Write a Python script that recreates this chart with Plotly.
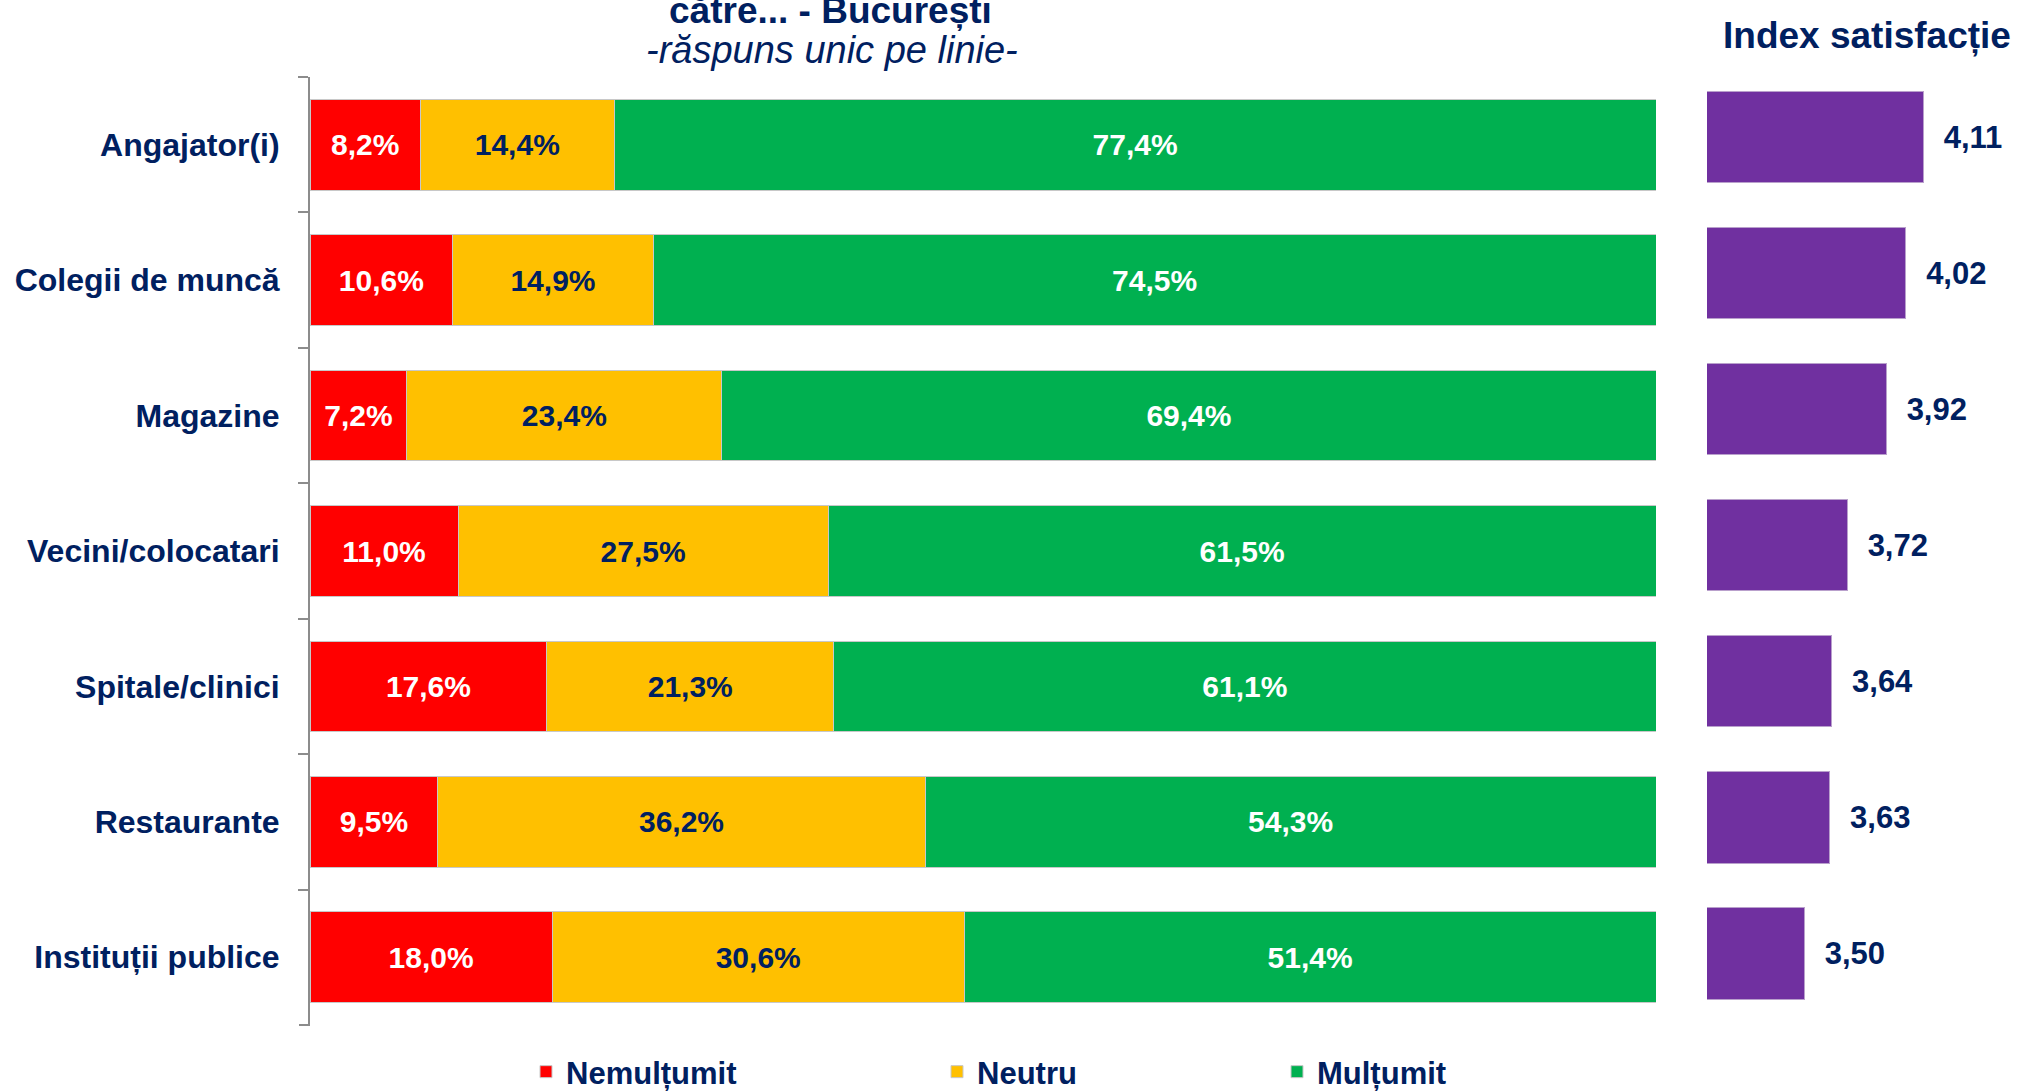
import plotly.graph_objects as go

W, H = 2019, 1091

categories = ["Angajator(i)", "Colegii de muncă", "Magazine", "Vecini/colocatari",
              "Spitale/clinici", "Restaurante", "Instituții publice"]
nemultumit = [8.2, 10.6, 7.2, 11.0, 17.6, 9.5, 18.0]
neutru = [14.4, 14.9, 23.4, 27.5, 21.3, 36.2, 30.6]
multumit = [77.4, 74.5, 69.4, 61.5, 61.1, 54.3, 51.4]
index_satisfactie = [4.11, 4.02, 3.92, 3.72, 3.64, 3.63, 3.50]

series_names = ["Nemulțumit", "Neutru", "Mulțumit"]
series_colors = ["#FF0000", "#FFC000", "#00B050"]
text_colors = ["#FFFFFF", "#002060", "#FFFFFF"]
index_color = "#7030A0"
navy = "#002060"
FONT = "Liberation Sans, Arial, sans-serif"


def fx(x):
    return x / W


def fy(y):
    return 1 - y / H


def pct(v):
    return f"{v:.1f}".replace(".", ",") + "%"


fig = go.Figure()

for i, (name, vals) in enumerate(zip(series_names, [nemultumit, neutru, multumit])):
    fig.add_trace(go.Bar(
        y=categories, x=vals, orientation="h", name=name,
        marker=dict(color=series_colors[i], line=dict(color="#C8C8C8", width=1)),
        text=[pct(v) for v in vals], textposition="inside", insidetextanchor="middle",
        constraintext="none",
        textfont=dict(family=FONT, size=30, color=text_colors[i], weight="bold"),
        xaxis="x", yaxis="y",
        legend=["legend", "legend2", "legend3"][i],
        hoverinfo="skip",
    ))

fig.add_trace(go.Bar(
    y=categories, x=index_satisfactie, orientation="h", name="Index satisfacție",
    marker=dict(color=index_color, line=dict(color="#B9A0CC", width=1)),
    text=["\u00a0\u00a0" + f"{v:.2f}".replace(".", ",") for v in index_satisfactie],
    textposition="outside", constraintext="none", cliponaxis=True,
    textfont=dict(family=FONT, size=31, color=navy, weight="bold"),
    xaxis="x2", yaxis="y2", showlegend=False, hoverinfo="skip",
))

n = len(categories)
fig.update_layout(
    width=W, height=H,
    margin=dict(l=0, r=0, t=0, b=0, autoexpand=False),
    paper_bgcolor="white", plot_bgcolor="white",
    barmode="stack",
    bargap=0.33,
    font=dict(family=FONT, color=navy),
    xaxis=dict(domain=[fx(310), fx(1656)], range=[0, 100], visible=False, fixedrange=True),
    yaxis=dict(domain=[fy(1025), fy(77)], range=[n - 0.5, -0.5], type="category",
               showline=True, linecolor="#8C8C8C", linewidth=2,
               ticks="outside", tickson="boundaries", ticklen=10, tickcolor="#8C8C8C", tickwidth=2,
               ticklabelstandoff=22,
               tickfont=dict(family=FONT, size=32, color=navy, weight="bold"),
               showgrid=False, zeroline=False),
    xaxis2=dict(domain=[fx(1707), fx(2019)], range=[3.0, 4.6], visible=False, anchor="y2"),
    yaxis2=dict(domain=[fy(1021.6), fy(69)], autorange="reversed", type="category",
                visible=False, anchor="x2"),
    showlegend=True,
)

# closing tick at the bottom end of the category axis
fig.add_shape(type="line", xref="paper", yref="paper",
              x0=fx(299), x1=fx(310), y0=fy(1025), y1=fy(1025),
              line=dict(color="#8C8C8C", width=2))

legend_common = dict(orientation="h", yanchor="middle", xanchor="left", y=fy(1072),
                     font=dict(family=FONT, size=31, color=navy, weight="bold"),
                     bgcolor="rgba(0,0,0,0)", borderwidth=0)
fig.update_layout(
    legend=dict(x=fx(526), **legend_common),
    legend2=dict(x=fx(937), **legend_common),
    legend3=dict(x=fx(1277), **legend_common),
)

fig.add_annotation(text="<b>către... - București</b>", xref="paper", yref="paper",
                   x=fx(830), y=fy(11), xanchor="center", yanchor="middle", showarrow=False,
                   font=dict(family=FONT, size=37, color=navy))
fig.add_annotation(text="<i>-răspuns unic pe linie-</i>", xref="paper", yref="paper",
                   x=fx(832), y=fy(50), xanchor="center", yanchor="middle", showarrow=False,
                   font=dict(family=FONT, size=38, color=navy))
fig.add_annotation(text="<b>Index satisfacție</b>", xref="paper", yref="paper",
                   x=fx(1867), y=fy(36), xanchor="center", yanchor="middle", showarrow=False,
                   font=dict(family=FONT, size=37, color=navy))

fig.write_html("out.html", config={"displayModeBar": False},
               post_script="document.body.style.margin='0';document.body.style.overflow='hidden';")
